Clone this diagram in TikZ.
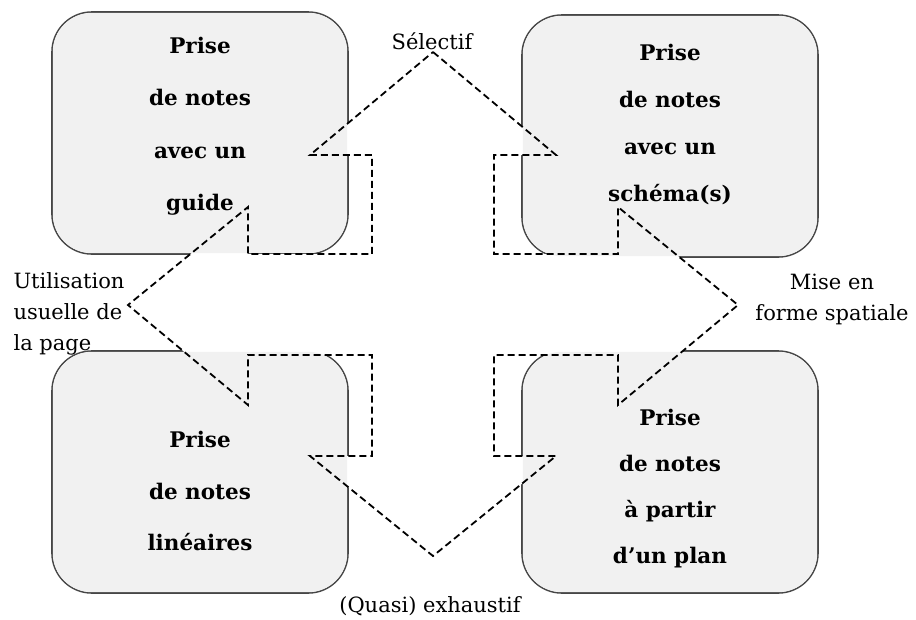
\documentclass[tikz,border=0pt]{standalone}
\usepackage{fontspec}
\setmainfont{DejaVu Serif}
\usetikzlibrary{positioning}

\definecolor{boxgray}{RGB}{241,241,241}
\definecolor{edgegray}{RGB}{70,70,70}

% outline of the four-way arrow, in pixel-like units
\newcommand{\crossoutline}{(433,52) -- (556,155) -- (494,155) -- (494,254)
  -- (618,254) -- (618,207) -- (738,305) -- (618,405) -- (618,355)
  -- (494,355) -- (494,456) -- (556,456) -- (433,556) -- (310,456)
  -- (372,456) -- (372,355) -- (248,355) -- (248,405) -- (128,305)
  -- (248,207) -- (248,254) -- (372,254) -- (372,155) -- (310,155) -- cycle}

\begin{document}
\begin{tikzpicture}[x=1pt,y=-1pt,
    box/.style={draw=edgegray, fill=boxgray, line width=1.6pt, rounded corners=40pt,
      minimum width=296pt, minimum height=242pt, inner sep=0pt, outer sep=0pt},
    boxtext/.style={font=\bfseries\fontsize{21.5}{#1}\selectfont, align=center},
    sidetext/.style={font=\fontsize{21}{31}\selectfont},
    crossline/.style={dash pattern=on 7pt off 4pt, line width=1.8pt}]
    \useasboundingbox (0,0) rectangle (916,619);

    % the four boxes
    \node[box] (tl) at (200,133) {};
    \node[box] (tr) at (670,136) {};
    \node[box] (bl) at (200,472) {};
    \node[box] (br) at (670,472) {};

    % the arrow hides the box borders, the boxes keep their fill
    \fill[white] \crossoutline;
    \foreach \b in {tl,tr,bl,br}
        \fill[boxgray, rounded corners=39pt] ([shift={(0.8,0.8)}]\b.north west)
            rectangle ([shift={(-0.8,-0.8)}]\b.south east);
    \draw[crossline] \crossoutline;

    % box texts
    \node[boxtext=52.5] (tltext) at (200,126) {Prise\\de notes\\avec un\\guide};
    \node[boxtext=47] (trtext) at (670,125) {Prise\\de notes\\avec un\\schéma(s)};
    \node[boxtext=51.5] (bltext) at (200,491) {Prise\\de notes\\linéaires};
    \node[boxtext=46] (brtext) at (670,489) {Prise\\de notes\\à partir\\d’un plan};

    % labels of the arrow
    \node[sidetext] (sel) at (432,41) {Sélectif};
    \node[sidetext, anchor=west, align=left] (usage) at (10,314) {Utilisation\\usuelle de\\la page};
    \node[sidetext, align=center] (spatial) at (832,299) {Mise en\\forme spatiale};
    \node[sidetext] (exh) at (430,606) {(Quasi) exhaustif};
\end{tikzpicture}
\end{document}
